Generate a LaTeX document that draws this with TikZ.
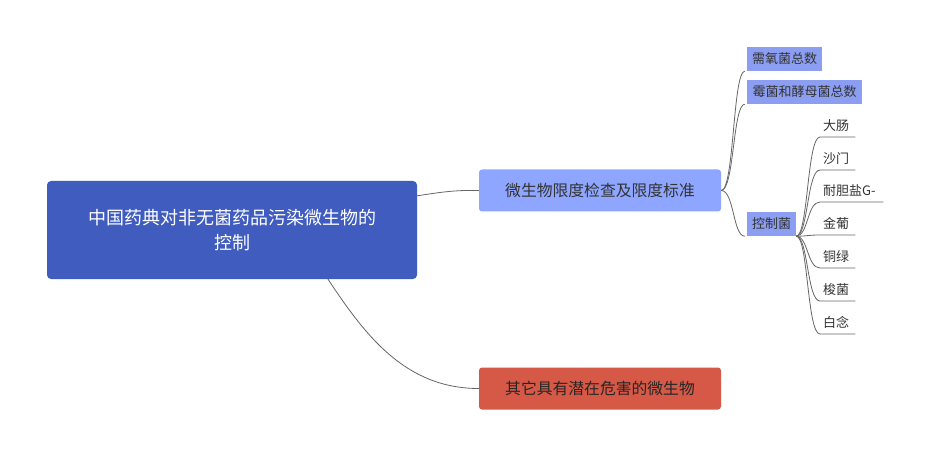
\documentclass[tikz,border=0pt]{standalone}
\usepackage{fontspec}
\setmainfont{Noto Sans CJK SC}
\usetikzlibrary{calc}
\definecolor{rootblue}{HTML}{3F5CBE}
\definecolor{lightblue}{HTML}{8EA6FF}
\definecolor{smallblue}{HTML}{8C9EF2}
\definecolor{redbox}{HTML}{D65846}
\definecolor{linegray}{HTML}{666666}
\definecolor{txt}{HTML}{333333}
\tikzset{
  rootbox/.style={fill=rootblue, rounded corners=4pt, minimum width=370pt, minimum height=98pt, text=white, align=center, inner sep=0pt, font=\fontsize{18pt}{25pt}\selectfont},
  mainbox/.style={rounded corners=3pt, minimum width=242pt, minimum height=42pt, inner sep=0pt, font=\fontsize{15.8pt}{18pt}\selectfont},
  smallbox/.style={fill=smallblue, minimum height=24pt, inner sep=0pt, text=txt, font=\fontsize{13pt}{15pt}\selectfont},
  leaf/.style={anchor=south west, inner xsep=3pt, inner ysep=0pt, minimum height=22pt, text=txt, font=\fontsize{13pt}{15pt}\selectfont},
  conn/.style={draw=linegray, line width=0.8pt},
}
\begin{document}
\begin{tikzpicture}[x=1pt,y=-1pt]
\useasboundingbox[fill=white] (0,0) rectangle (925,454);
\node[rootbox] (root) at (232,230) {中国药典对非无菌药品污染微生物的\\控制};
\node[mainbox, fill=lightblue, text=txt] (b1) at (600,190.5) {微生物限度检查及限度标准};
\node[mainbox, fill=redbox, text={black!85}] (b2) at (600,388.5) {其它具有潜在危害的微生物};
\node[smallbox, minimum width=75pt] (s1) at (784.5,59) {需氧菌总数};
\node[smallbox, minimum width=115pt] (s2) at (804.5,92) {霉菌和酵母菌总数};
\node[smallbox, minimum width=49pt] (s3) at (771.5,224) {控制菌};
\node[leaf, text width=29pt] (c1) at (820,137) {大肠};
\node[leaf, text width=29pt] (c2) at (820,170) {沙门};
\node[leaf, text width=57pt] (c3) at (820,202) {耐胆盐G-};
\node[leaf, text width=29pt] (c4) at (820,235) {金葡};
\node[leaf, text width=29pt] (c5) at (820,268) {铜绿};
\node[leaf, text width=29pt] (c6) at (820,301) {梭菌};
\node[leaf, text width=29pt] (c7) at (820,334) {白念};
% root connectors
\draw[conn] ($(root.north east)+(0,15)$) .. controls (442,192) and (455,190) .. (b1.west);
\draw[conn] ($(root.south)+(96,0)$) .. controls (365,335) and (405,388.5) .. (b2.west);
% b1 brace
\foreach \s in {s1,s2,s3}{
  \draw[conn] (b1.east) .. controls ($(b1.east)+(13,0)$) and ($(\s.south west)+(-14,0)$) .. ($(\s.south west)+(-2,0)$);
}
% control bacteria
\foreach \c in {c1,c2,c3,c4,c5,c6,c7}{
  \draw[conn] (s3.south east) .. controls ($(s3.south east)+(12,0)$) and ($(\c.south west)+(-13,0)$) .. (\c.south west) -- (\c.south east);
}
\end{tikzpicture}
\end{document}
